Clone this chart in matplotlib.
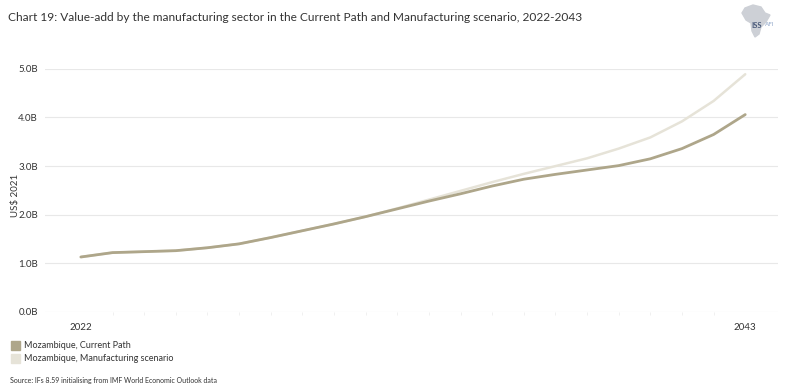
import matplotlib
matplotlib.use("Agg")
from matplotlib import pyplot as plt
from matplotlib.patches import Polygon, Rectangle
import numpy as np

plt.rcParams['font.family'] = ['Lato', 'DejaVu Sans']

years = list(range(2022, 2044))
current_path = [1.13, 1.22, 1.24, 1.26, 1.32, 1.40, 1.53, 1.67, 1.81, 1.96,
                2.12, 2.28, 2.43, 2.59, 2.73, 2.83, 2.92, 3.01, 3.15, 3.36,
                3.65, 4.06]
manufacturing = [1.13, 1.22, 1.24, 1.26, 1.32, 1.40, 1.53, 1.67, 1.81, 1.96,
                 2.13, 2.31, 2.49, 2.67, 2.84, 3.00, 3.16, 3.36, 3.59, 3.92,
                 4.34, 4.89]
y_ticks = [0, 1, 2, 3, 4, 5]
y_labels = ['0.0B', '1.0B', '2.0B', '3.0B', '4.0B', '5.0B']
x_labels = ['2022', '2043']

dark = '#aea68a'
light = '#e6e3d8'
text_col = '#333333'

fig = plt.figure(figsize=(7.86, 3.87), dpi=100)
ax = fig.add_axes([0.057, 0.194, 0.933, 0.628])

ax.plot(years, manufacturing, color=light, lw=1.8, solid_capstyle='round')
ax.plot(years, current_path, color=dark, lw=2.0, solid_capstyle='round')

ax.set_xlim(2020.86, 2044.04)
ax.set_ylim(0, 5.0)
ax.set_yticks(y_ticks, labels=y_labels)
ax.set_xticks([2022, 2043], labels=x_labels)
ax.set_xticks(years, minor=True)
for s in ax.spines.values():
    s.set_visible(False)
ax.grid(axis='y', color='#e8e8e8', lw=0.8)
ax.set_axisbelow(True)
ax.tick_params(axis='y', length=0, labelsize=7, labelcolor=text_col, pad=5)
ax.tick_params(axis='x', length=0, labelsize=7, labelcolor=text_col, pad=8)
ax.tick_params(axis='x', which='minor', length=2, color='#eeeeee')
ax.set_ylabel('US$ 2021', fontsize=7, color=text_col)
ax.yaxis.set_label_coords(-0.034, 0.48)

fig.text(0.010, 0.955, 'Chart 19: Value-add by the manufacturing sector in the Current Path and Manufacturing scenario, 2022-2043',
         fontsize=8.6, color=text_col, va='center')

# legend
fig.patches.append(Rectangle((11 / 786, 1 - 350 / 387), 9 / 786, 9 / 387,
                             transform=fig.transFigure, color=dark))
fig.patches.append(Rectangle((11 / 786, 1 - 363 / 387), 9 / 786, 9 / 387,
                             transform=fig.transFigure, color=light))
fig.text(24 / 786, 1 - 345.5 / 387, 'Mozambique, Current Path', fontsize=6.5, color=text_col, va='center')
fig.text(24 / 786, 1 - 358.5 / 387, 'Mozambique, Manufacturing scenario', fontsize=6.5, color=text_col, va='center')
fig.text(10 / 786, 1 - 380 / 387, 'Source: IFs 8.59 initialising from IMF World Economic Outlook data',
         fontsize=5.0, color=text_col, va='center')

# logo
africa = [(745, 8), (753, 5), (761, 7), (765, 13), (770, 15), (766, 22),
          (761, 27), (759, 34), (755, 37), (752, 31), (751, 23), (746, 20), (742, 13)]
fig.patches.append(Polygon([(x / 786, 1 - y / 387) for x, y in africa],
                           transform=fig.transFigure, color='#cdd0d6'))
fig.text(751 / 786, 1 - 25 / 387, 'ISS', fontsize=5.5, color='#4a5a7a', va='center', weight='bold')
fig.text(765 / 786, 1 - 25 / 387, 'AFI', fontsize=4.5, color='#8fa6c8', va='center')

fig.savefig('out.png', dpi=100)
